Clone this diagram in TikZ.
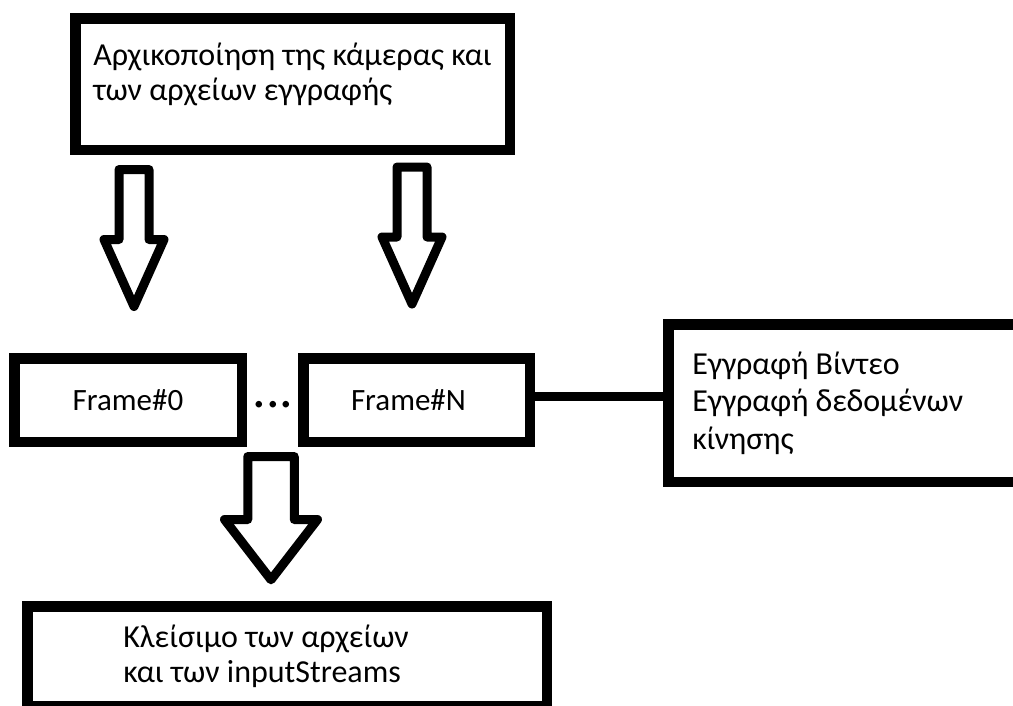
\documentclass[tikz,border=0pt]{standalone}
\usepackage{fontspec}
\setmainfont{Carlito}
\usetikzlibrary{positioning}

\begin{document}
\begin{tikzpicture}[x=1pt, y=-1pt,
     node distance = 51pt and 51pt,
        box/.style = {rectangle, draw, line width=10.5pt, inner sep=0pt,
                     font=\fontsize{32}{35}\selectfont, align=flush left},
       link/.style = {line width=9pt},
     hollow/.pic = {\draw[line width=9pt, line join=round]
                    (-15,0) -- (15,0) -- (15,70) -- (30,70) -- (0,137)
                    -- (-30,70) -- (-15,70) -- cycle;}
                        ]
\useasboundingbox (0,0) rectangle (1013,705);
\clip (0,0) rectangle (1013,705);
\node (init) [box, minimum width=434.5pt, minimum height=131.5pt, text depth=24pt]
      at (292.5,84) {Αρχικοποίηση της κάμερας και\\των αρχείων εγγραφής};
\node (frame0) [box, minimum width=227.5pt, minimum height=83.5pt,
      font=\fontsize{31}{35}\selectfont] at (128,400) {Frame\#0};
\node (frameN) [box, minimum width=226.5pt, minimum height=83.5pt, text width=131pt,
      font=\fontsize{31}{35}\selectfont, right=of frame0] {Frame\#N};
\node (dots) [font=\fontsize{54}{60}\selectfont] at (273,405) {...};
\node (rec) [box, anchor=west, text width=330pt, inner xsep=24pt,
      minimum height=157.5pt, font=\fontsize{32}{37.5}\selectfont]
      at (663,403) {Εγγραφή Βίντεο\\Εγγραφή δεδομένων\\κίνησης};
\node (close) [box, anchor=north west, text width=327.5pt, inner xsep=96pt,
      minimum height=99.5pt]
      at (22,601) {Κλείσιμο των αρχείων\\και των inputStreams};
% block arrows
\pic at ([xshift=64pt,yshift=-14.5pt]init.south west) {hollow};
\pic at ([xshift=342pt,yshift=-12pt]init.south west) {hollow};
\pic[xscale=1.55, yscale=0.9] at ([xshift=262pt,yshift=-9.5pt]frame0.south west) {hollow};
\coordinate (tap) at ([yshift=4pt]frameN.east);
\draw[link] (tap) -- (tap -| rec.west);
\end{tikzpicture}
\end{document}
